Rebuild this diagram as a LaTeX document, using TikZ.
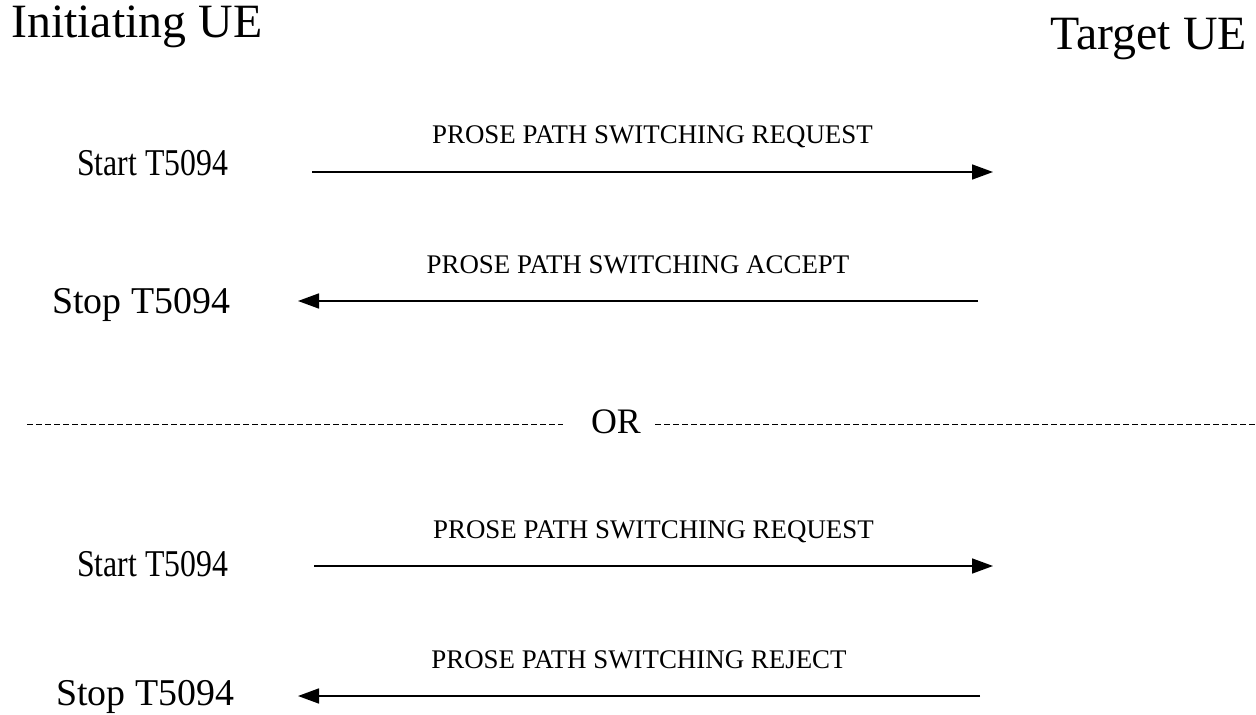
\documentclass[tikz,border=0pt]{standalone}
\usepackage{fontspec}
\setmainfont{Liberation Serif}
\newfontfamily\narrowserif{Liberation Serif}[FakeStretch=0.84]
\usetikzlibrary{arrows.meta}
\tikzset{
  ue/.style = {inner sep=0pt, font=\fontsize{48}{52}\selectfont},
  timer/.style = {inner sep=0pt, anchor=base west, font=\fontsize{38}{42}\selectfont},
  msg/.style = {-{Triangle[length=21bp,width=15bp]}, line width=1.6bp},
  lbl/.style = {inner sep=0pt, anchor=base, yshift=28bp, font=\fontsize{27}{30}\selectfont},
  sep/.style = {dash pattern=on 6bp off 3bp, line width=1bp},
}

\begin{document}
\begin{tikzpicture}[x=1bp, y=-1bp]
  \useasboundingbox (0,0) rectangle (1256,715);

  \node[ue, anchor=base west] (init)   at (11,38)   {Initiating UE};
  \node[ue, anchor=base east] (target) at (1247,50) {Target UE};

  % request / accept
  \node[timer] (start1) at (77,176) {\narrowserif Start T5094};
  \coordinate (req1s) at (312,172);
  \coordinate (req1e) at (993,172);
  \draw[msg] (req1s) -- node[lbl] {PROSE PATH SWITCHING REQUEST} (req1e);

  \node[timer] (stop1) at (52,313) {Stop T5094};
  \coordinate (accs) at (978,301);
  \coordinate (acce) at (298,301);
  \draw[msg] (accs) -- node[lbl] {PROSE PATH SWITCHING ACCEPT} (acce);

  % separator
  \node[inner sep=0pt, anchor=base, font=\fontsize{36}{40}\selectfont] (or) at (616,433) {OR};
  \coordinate (sepl) at (27,424);
  \coordinate (orl)  at (563,424);
  \coordinate (orr)  at (655,424);
  \coordinate (sepr) at (1256,424);
  \draw[sep] (sepl) -- (orl);
  \draw[sep] (orr) -- (sepr);

  % request / reject
  \node[timer] (start2) at (77,576) {\narrowserif Start T5094};
  \coordinate (req2s) at (314,566);
  \coordinate (req2e) at (993,566);
  \draw[msg] (req2s) -- node[lbl] {PROSE PATH SWITCHING REQUEST} (req2e);

  \node[timer] (stop2) at (56,705) {Stop T5094};
  \coordinate (rejs) at (980,696);
  \coordinate (reje) at (298,696);
  \draw[msg] (rejs) -- node[lbl] {PROSE PATH SWITCHING REJECT} (reje);

\end{tikzpicture}
\end{document}
